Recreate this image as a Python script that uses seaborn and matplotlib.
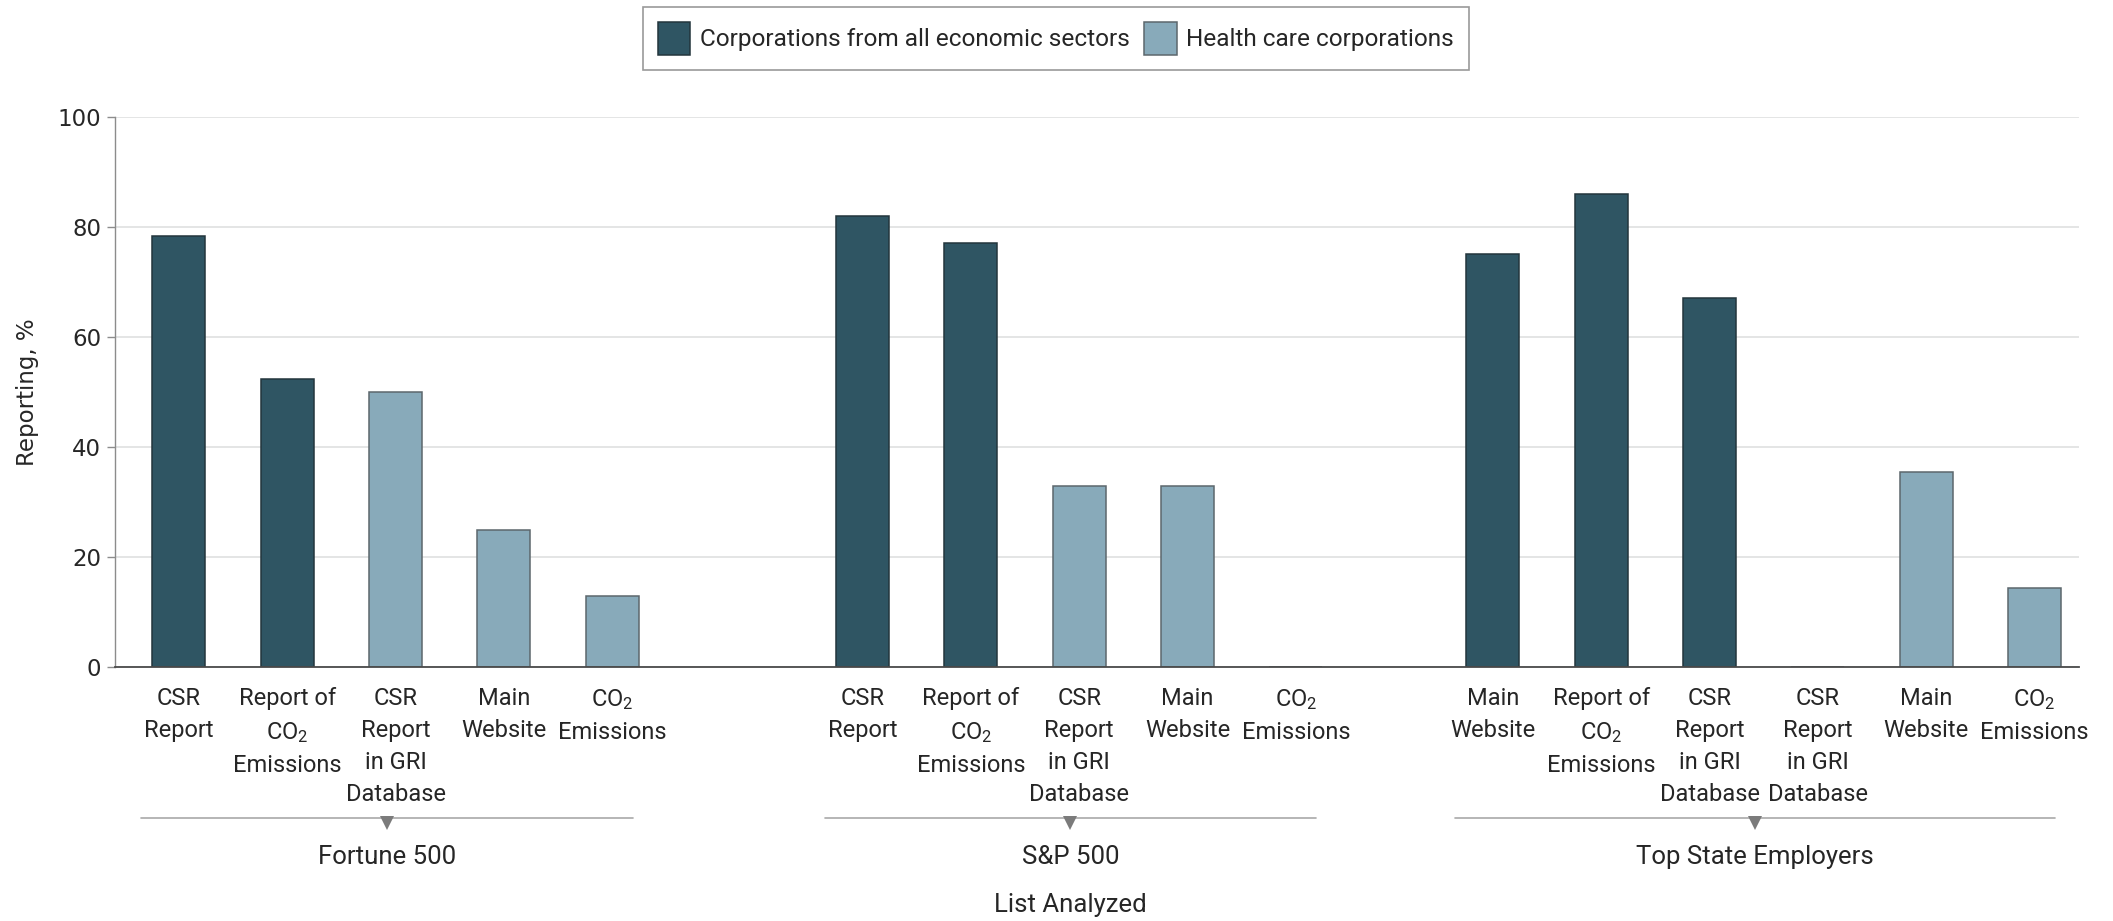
import matplotlib
matplotlib.use("Agg")
import matplotlib.pyplot as plt
import matplotlib.colors as mcolors
import matplotlib.transforms as mtransforms
from matplotlib.patches import Patch
import pandas as pd
import seaborn as sns

# ---------------- data ----------------
LIST_NAMES = ["Fortune 500", "S&P 500", "Top State Employers"]
SECTORS = ["Corporations from all economic sectors", "Health care corporations"]

fortune_measures = ["CSR\nReport", "Report of\nCO$_2$\nEmissions",
                    "CSR\nReport\nin GRI\nDatabase", "Main\nWebsite",
                    "CO$_2$\nEmissions"]
fortune_sectors = [0, 0, 1, 1, 1]
fortune_values = [78.3, 52.3, 50.0, 25.0, 13.0]

sp_measures = ["CSR\nReport", "Report of\nCO$_2$\nEmissions",
               "CSR\nReport\nin GRI\nDatabase", "Main\nWebsite",
               "CO$_2$\nEmissions"]
sp_sectors = [0, 0, 1, 1, 1]
sp_values = [82.0, 77.0, 33.0, 33.0, 0.0]

top_measures = ["Main\nWebsite", "Report of\nCO$_2$\nEmissions",
                "CSR\nReport\nin GRI\nDatabase", "CSR\nReport\nin GRI\nDatabase",
                "Main\nWebsite", "CO$_2$\nEmissions"]
top_sectors = [0, 0, 0, 1, 1, 1]
top_values = [75.0, 86.0, 67.0, 0.0, 35.5, 14.3]

Y_TICKS = [0, 20, 40, 60, 80, 100]

# ---------------- layout / style ----------------
GROUP_GAPS = [2.31, 1.82]          # slot distance between neighbouring lists
PALETTE = {SECTORS[0]: "#2F5563", SECTORS[1]: "#88AABA"}
EDGES = {SECTORS[0]: "#23353c", SECTORS[1]: "#5c676c"}
TEXT = "#262626"

sns.set_theme(style="white")
plt.rcParams["font.family"] = ["Roboto", "DejaVu Sans"]
plt.rcParams["mathtext.fontset"] = "custom"
plt.rcParams["mathtext.rm"] = "Roboto"
plt.rcParams["mathtext.it"] = "Roboto:italic"
plt.rcParams["mathtext.bf"] = "Roboto:bold"
plt.rcParams["text.color"] = TEXT

groups = [
    (fortune_measures, fortune_sectors, fortune_values),
    (sp_measures, sp_sectors, sp_values),
    (top_measures, top_sectors, top_values),
]

rows = []
spans = []
start = 0.0
for gi, (meas, secs, vals) in enumerate(groups):
    pos = [start + k for k in range(len(vals))]
    for p, m, s, v in zip(pos, meas, secs, vals):
        rows.append({"pos": p, "measure": m, "sector": SECTORS[s],
                     "value": v, "list": LIST_NAMES[gi]})
    spans.append((pos[0], pos[-1]))
    if gi < len(GROUP_GAPS):
        start = pos[-1] + GROUP_GAPS[gi]
df = pd.DataFrame(rows)

W, H = 2113, 921
fig = plt.figure(figsize=(W / 100, H / 100), dpi=100)
ax = fig.add_axes([115 / W, 1 - 667 / H, (2079 - 115) / W, (667 - 117) / H])

sns.barplot(data=df, x="pos", y="value", hue="sector", hue_order=SECTORS,
            palette=PALETTE, native_scale=True, dodge=False, width=0.49,
            errorbar=None, saturation=1, legend=False, linewidth=1.1,
            edgecolor="#333333", ax=ax)

# per-series outline colour
for bar in ax.patches:
    fc = bar.get_facecolor()
    for s in SECTORS:
        if all(abs(a - b) < 1e-3 for a, b in zip(fc[:3], mcolors.to_rgb(PALETTE[s]))):
            bar.set_edgecolor(EDGES[s])

ax.set_xlim(df["pos"].min() - 0.59, df["pos"].max() + 0.41)
ax.set_ylim(0, 100)
ax.set_yticks(Y_TICKS)
ax.set_xticks(df["pos"].tolist(), df["measure"].tolist())
ax.set_xlabel("")
ax.set_ylabel("")

ax.yaxis.grid(True, color="#e2e3e3", linewidth=1.3)
ax.xaxis.grid(False)
ax.set_axisbelow(True)
for side in ("top", "right"):
    ax.spines[side].set_visible(False)
ax.spines["left"].set_color("#8c8c8c")
ax.spines["left"].set_linewidth(1.0)
ax.spines["bottom"].set_color("#4a4a4a")
ax.spines["bottom"].set_linewidth(1.3)

ax.tick_params(axis="y", length=6, width=1.0, color="#8c8c8c", pad=4,
               labelsize=16.5, labelcolor=TEXT, left=True)
ax.tick_params(axis="x", length=0, pad=14.5, labelsize=17, labelcolor=TEXT)
for t in ax.get_yticklabels():
    t.set_fontfamily("DejaVu Sans")
for t in ax.get_xticklabels():
    t.set_linespacing(1.5)

# list brackets with pointer and list names
trans = mtransforms.blended_transform_factory(ax.transData, fig.transFigure)
y_line = 1 - 818 / H
y_tri = 1 - 823 / H
y_name = 1 - 857 / H
centers = []
for (a, b), name in zip(spans, LIST_NAMES):
    c = (a + b) / 2 - 0.08
    half = (b - a) / 2 + 0.27
    centers.append(c)
    ax.plot([c - half, c + half], [y_line, y_line], transform=trans,
            color="#a9a9a9", linewidth=1.2, clip_on=False)
    ax.plot([c], [y_tri], transform=trans, marker="v", markersize=9.5,
            color="#7b7b7b", markeredgewidth=0, clip_on=False)
    ax.text(c, y_name, name, transform=trans, ha="center", va="center",
            fontsize=18.5, color=TEXT)

ax.text(centers[1], 1 - 905 / H, "List Analyzed", transform=trans,
        ha="center", va="center", fontsize=18.5, color=TEXT)

fig.text(28 / W, 1 - 392 / H, "Reporting, %", rotation=90, ha="center",
         va="center", fontsize=16.5, family="DejaVu Sans", color=TEXT)

handles = [Patch(facecolor=PALETTE[s], edgecolor=EDGES[s], linewidth=1.1)
           for s in SECTORS]
leg = fig.legend(handles, SECTORS, loc="center",
                 bbox_to_anchor=(1056 / W, 1 - 38.5 / H), ncol=2,
                 frameon=True, fancybox=False, edgecolor="#9a9a9a",
                 framealpha=1, fontsize=17.6, handlelength=1.32,
                 handleheight=1.68, handletextpad=0.4, columnspacing=0.6,
                 borderpad=0.6)
leg.get_frame().set_linewidth(1.2)
for t in leg.get_texts():
    t.set_color(TEXT)

fig.savefig("out.png", dpi=100, facecolor="white")
